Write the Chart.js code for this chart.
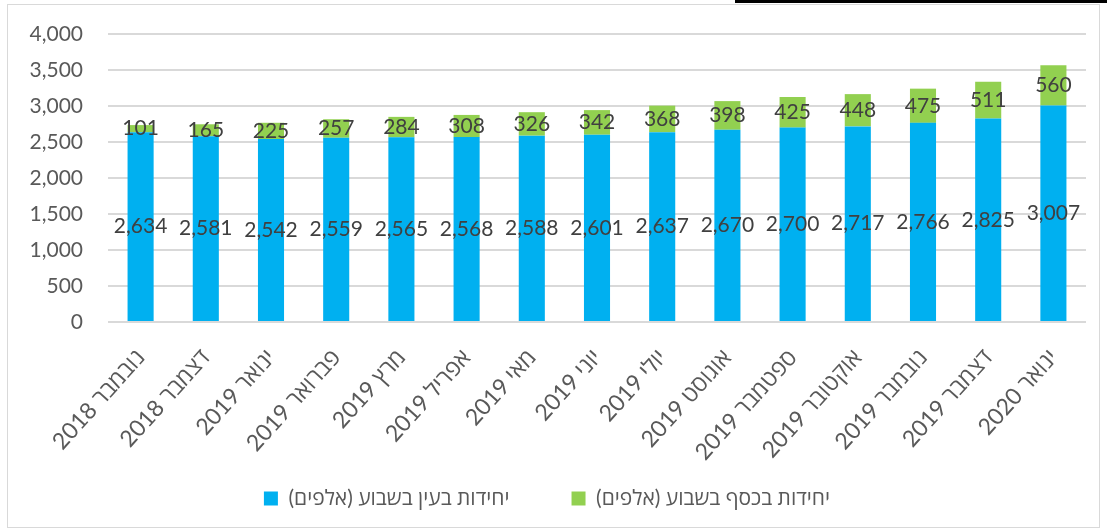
<!DOCTYPE html>
<html lang="he">
<head>
<meta charset="utf-8">
<script src="https://cdn.jsdelivr.net/npm/chart.js@4"></script>
<style>
    html, body { margin: 0; padding: 0; background: #fff; }
    body { width: 1107px; height: 532px; position: relative; overflow: hidden; }
    #frame {
        position: absolute; left: 7px; top: 4px;
        width: 1091px; height: 522px;
        border: 1px solid #d9d9d9;
    }
    #topline { position: absolute; left: 735px; top: 0; width: 372px; height: 3px; background: #000; }
    #chartBox { position: absolute; left: 0; top: 0; width: 1091px; height: 522px; }
</style>
</head>
<body>
<div id="topline"></div>
<div id="frame">
    <div id="chartBox"><canvas id="unitsChart"></canvas></div>
</div>
<script>
// --------------------
// Data
// --------------------
const months = [
    "נובמבר 2018", "דצמבר 2018", "ינואר 2019", "פברואר 2019", "מרץ 2019",
    "אפריל 2019", "מאי 2019", "יוני 2019", "יולי 2019", "אוגוסט 2019",
    "ספטמבר 2019", "אוקטובר 2019", "נובמבר 2019", "דצמבר 2019", "ינואר 2020"
];
const unitsInKind = [2634, 2581, 2542, 2559, 2565, 2568, 2588, 2601, 2637, 2670, 2700, 2717, 2766, 2825, 3007];
const unitsInCash = [101, 165, 225, 257, 284, 308, 326, 342, 368, 398, 425, 448, 475, 511, 560];
const yTicks = [0, 500, 1000, 1500, 2000, 2500, 3000, 3500, 4000];

const FONT = "Lato, 'Open Sans', sans-serif";

// --------------------
// Value labels in the middle of each segment
// --------------------
const segmentLabels = {
    id: "segmentLabels",
    afterDatasetsDraw(chart) {
        const ctx = chart.ctx;
        ctx.save();
        ctx.font = `21px ${FONT}`;
        ctx.fillStyle = "#404040";
        ctx.textAlign = "center";
        ctx.textBaseline = "middle";
        chart.data.datasets.forEach((ds, i) => {
            const meta = chart.getDatasetMeta(i);
            meta.data.forEach((bar, j) => {
                const p = bar.getCenterPoint();
                ctx.fillText(ds.data[j].toLocaleString("en-US"), p.x, p.y);
            });
        });
        ctx.restore();
    }
};

// the month labels hang below the x box, so don't let them get clipped
const roomForLabels = {
    id: "roomForLabels",
    afterLayout(chart) {
        chart.scales.x.bottom = chart.scales.x.top + 150;
    }
};

const ctx = document.getElementById("unitsChart").getContext("2d");

new Chart(ctx, {
    type: "bar",
    data: {
        labels: months,
        datasets: [
            {
                label: "יחידות בעין בשבוע (אלפים)",
                data: unitsInKind,
                backgroundColor: "#00b0f0",
                barPercentage: 0.8,
                categoryPercentage: 0.5
            },
            {
                label: "יחידות בכסף בשבוע (אלפים)",
                data: unitsInCash,
                backgroundColor: "#92d050",
                barPercentage: 0.8,
                categoryPercentage: 0.5
            }
        ]
    },
    options: {
        responsive: true,
        maintainAspectRatio: false,
        animation: false,
        layout: { padding: { left: 0, right: 13, top: 29, bottom: 8 } },
        plugins: {
            tooltip: { enabled: false },
            legend: {
                position: "bottom",
                labels: {
                    color: "#595959",
                    font: { family: FONT, size: 21 },
                    boxWidth: 14,
                    boxHeight: 14,
                    padding: 62
                }
            }
        },
        scales: {
            x: {
                stacked: true,
                afterFit: s => { s.height = 104; },
                grid: { display: false },
                border: { display: false },
                ticks: {
                    color: "#595959",
                    font: { family: FONT, size: 23 },
                    minRotation: 48,
                    maxRotation: 48,
                    padding: 14,
                    autoSkip: false
                }
            },
            y: {
                stacked: true,
                min: 0,
                max: 4000,
                afterBuildTicks: s => { s.ticks = yTicks.map(v => ({ value: v })); },
                afterFit: s => {
                    s.width = 100;
                    s.paddingTop = 0;
                    s.paddingBottom = 0;
                },
                grid: { color: "#d9d9d9", lineWidth: 2, drawTicks: false },
                border: { display: false },
                ticks: {
                    color: "#595959",
                    font: { family: FONT, size: 21 },
                    padding: 25,
                    callback: v => v.toLocaleString("en-US")
                }
            }
        }
    },
    plugins: [segmentLabels, roomForLabels]
});
</script>
</body>
</html>
